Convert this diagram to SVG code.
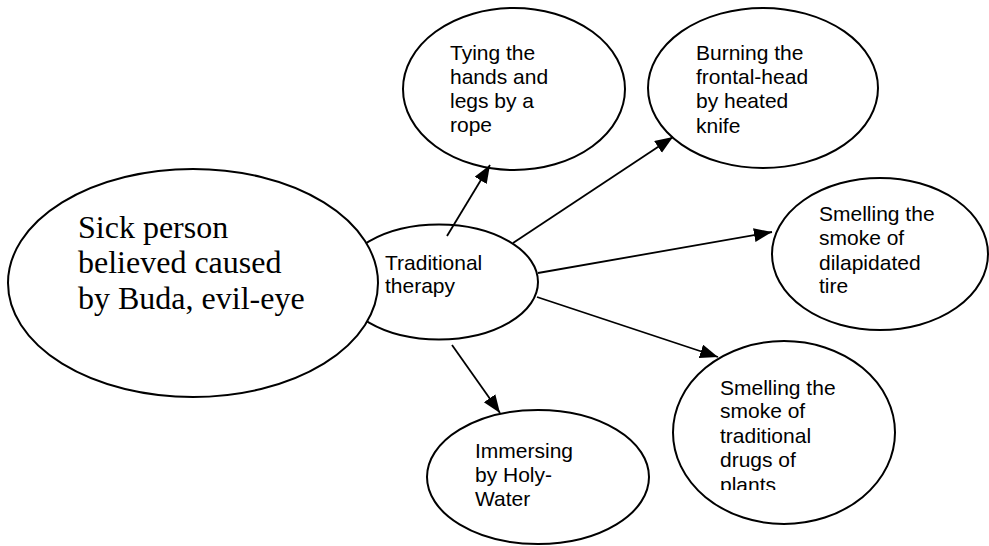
<svg xmlns="http://www.w3.org/2000/svg" width="989" height="546" viewBox="0 0 989 546">
<style>
.node{fill:#fff;stroke:#000;stroke-width:2}
.lbl{font-family:"Liberation Sans",Arial,sans-serif;font-size:21px;fill:#000}
.big{font-family:"Liberation Serif","Times New Roman",serif;font-size:32px;fill:#000}
.edge{stroke:#000;stroke-width:1.8;fill:none;marker-end:url(#ah)}
</style>
<defs>
<marker id="ah" markerUnits="userSpaceOnUse" markerWidth="19" markerHeight="15" refX="18" refY="7" orient="auto">
<path d="M0,0 L18,7 L0,14 z" fill="#000"/>
</marker>
<clipPath id="clipPlants"><rect x="660" y="330" width="260" height="160"/></clipPath>
</defs>
<rect width="989" height="546" fill="#fff"/>
<g id="therapy">
<ellipse class="node" cx="439" cy="282" rx="99" ry="57.5"/>
<text class="lbl" x="385" y="270">Traditional</text>
<text class="lbl" x="385" y="293">therapy</text>
</g>
<g id="sick">
<ellipse class="node" cx="193" cy="283" rx="185" ry="114"/>
<text class="big" x="78" y="238">Sick person</text>
<text class="big" x="78" y="273">believed caused</text>
<text class="big" x="78" y="309">by Buda, evil-eye</text>
</g>
<g id="tying">
<ellipse class="node" cx="514" cy="89" rx="111" ry="81"/>
<text class="lbl" x="450" y="60">Tying the</text>
<text class="lbl" x="450" y="84">hands and</text>
<text class="lbl" x="450" y="108">legs by a</text>
<text class="lbl" x="450" y="132">rope</text>
</g>
<g id="burning">
<ellipse class="node" cx="763" cy="88" rx="115" ry="80"/>
<text class="lbl" x="696" y="60">Burning the</text>
<text class="lbl" x="696" y="84">frontal-head</text>
<text class="lbl" x="696" y="108">by heated</text>
<text class="lbl" x="696" y="133">knife</text>
</g>
<g id="tire">
<ellipse class="node" cx="880" cy="254" rx="108" ry="76"/>
<text class="lbl" x="819" y="221">Smelling the</text>
<text class="lbl" x="819" y="245">smoke of</text>
<text class="lbl" x="819" y="270">dilapidated</text>
<text class="lbl" x="819" y="293">tire</text>
</g>
<g id="plants">
<ellipse class="node" cx="784" cy="432.5" rx="111" ry="91.5"/>
<g clip-path="url(#clipPlants)">
<text class="lbl" x="720" y="395">Smelling the</text>
<text class="lbl" x="720" y="418">smoke of</text>
<text class="lbl" x="720" y="443">traditional</text>
<text class="lbl" x="720" y="467">drugs of</text>
<text class="lbl" x="720" y="492">plants</text>
</g>
</g>
<g id="immersing">
<ellipse class="node" cx="538" cy="477" rx="111" ry="67"/>
<text class="lbl" x="475" y="458">Immersing</text>
<text class="lbl" x="475" y="482">by Holy-</text>
<text class="lbl" x="475" y="506">Water</text>
</g>
<g id="connectors">
<line class="edge" x1="447" y1="236" x2="490" y2="165"/>
<line class="edge" x1="513" y1="243" x2="673" y2="137"/>
<line class="edge" x1="538" y1="273" x2="772" y2="232"/>
<line class="edge" x1="537" y1="297" x2="718" y2="357"/>
<line class="edge" x1="452" y1="345" x2="500" y2="413"/>
</g>
</svg>
